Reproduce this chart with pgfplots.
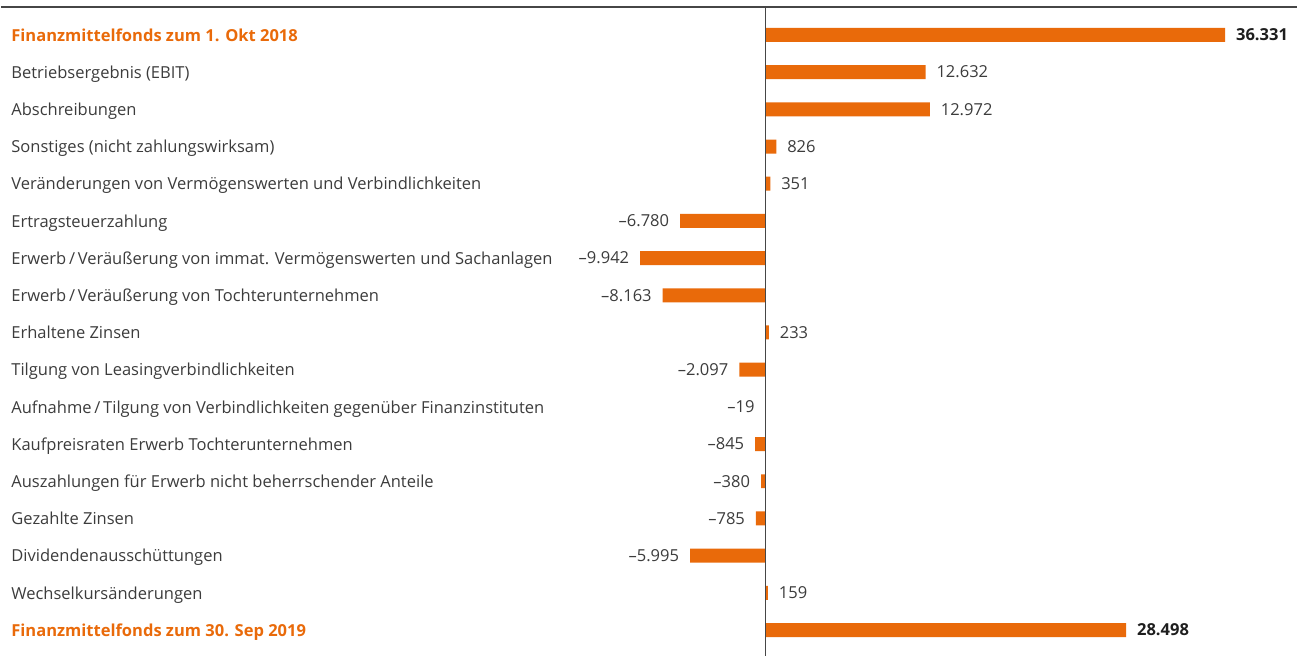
\documentclass[border=0pt]{standalone}
\usepackage{pgfplots}
\pgfplotsset{compat=1.18}
\usepackage{fontspec}
\setmainfont{Open Sans}
\definecolor{bar}{RGB}{233,106,10}
\definecolor{txt}{RGB}{60,60,60}
\definecolor{axl}{RGB}{70,70,70}
\newcommand{\lf}{\fontsize{8.3}{10}\selectfont}
\newcommand{\hl}[1]{\textcolor{bar}{\bfseries #1}}
\begin{document}
\begin{tikzpicture}
\begin{axis}[
  scale only axis, width=649bp, height=325bp,
  xmin=-60506, xmax=42022, ymin=7, ymax=657, y dir=reverse,
  axis line style={draw=none},
  xtick=\empty,
  ytick={35,72.25,109.5,146.75,184,221.25,258.5,295.75,333,370.25,407.5,444.75,482,519.25,556.5,593.75,631},
  yticklabels={
    \hl{Finanzmittelfonds zum 1. Okt 2018},
    Betriebsergebnis (EBIT),
    Abschreibungen,
    Sonstiges (nicht zahlungswirksam),
    Veränderungen von Vermögenswerten und Verbindlichkeiten,
    Ertragsteuerzahlung,
    Erwerb\,/\,Veräußerung von immat. Vermögenswerten und Sachanlagen,
    Erwerb\,/\,Veräußerung von Tochterunternehmen,
    Erhaltene Zinsen,
    Tilgung von Leasingverbindlichkeiten,
    Aufnahme\,/\,Tilgung von Verbindlichkeiten gegenüber Finanzinstituten,
    Kaufpreisraten Erwerb Tochterunternehmen,
    Auszahlungen für Erwerb nicht beherrschender Anteile,
    Gezahlte Zinsen,
    Dividendenausschüttungen,
    Wechselkursänderungen,
    \hl{Finanzmittelfonds zum 30. Sep 2019}},
  major tick length=0pt,
  yticklabel style={anchor=base west, inner xsep=0pt, xshift=5bp, yshift=-3.1bp, font=\lf, text=txt},
  xbar, bar width=7bp, bar shift=0pt,
  nodes near coords, point meta=explicit symbolic,
  every node near coord/.append style={font=\lf, text=txt},
  clip=false,
]
\addplot[fill=bar, draw=none, nodes near coords style={anchor=west, xshift=2bp, font=\lf\bfseries, text={rgb,255:red,30;green,30;blue,30}}]
  coordinates {(36331,35)[36.331] (28498,631)[28.498]};
\addplot[fill=bar, draw=none, nodes near coords style={anchor=west, xshift=2bp}]
  coordinates {(12632,72.25)[12.632] (12972,109.5)[12.972] (826,146.75)[826] (351,184)[351] (233,333)[233] (159,593.75)[159]};
\addplot[fill=bar, draw=none, nodes near coords style={anchor=east, xshift=-2bp}]
  coordinates {(-6780,221.25)[–6.780] (-9942,258.5)[–9.942] (-8163,295.75)[–8.163] (-2097,370.25)[–2.097] (-19,407.5)[–19] (-845,444.75)[–845] (-380,482)[–380] (-785,519.25)[–785] (-5995,556.5)[–5.995]};
\draw[axl, line width=0.6bp] (axis cs:0,7) -- (axis cs:0,657);
\draw[axl, line width=1bp] (axis cs:-60506,7) -- (axis cs:42022,7);
\path (axis cs:-60506,0) -- (axis cs:42022,0);
\end{axis}
\end{tikzpicture}
\end{document}
